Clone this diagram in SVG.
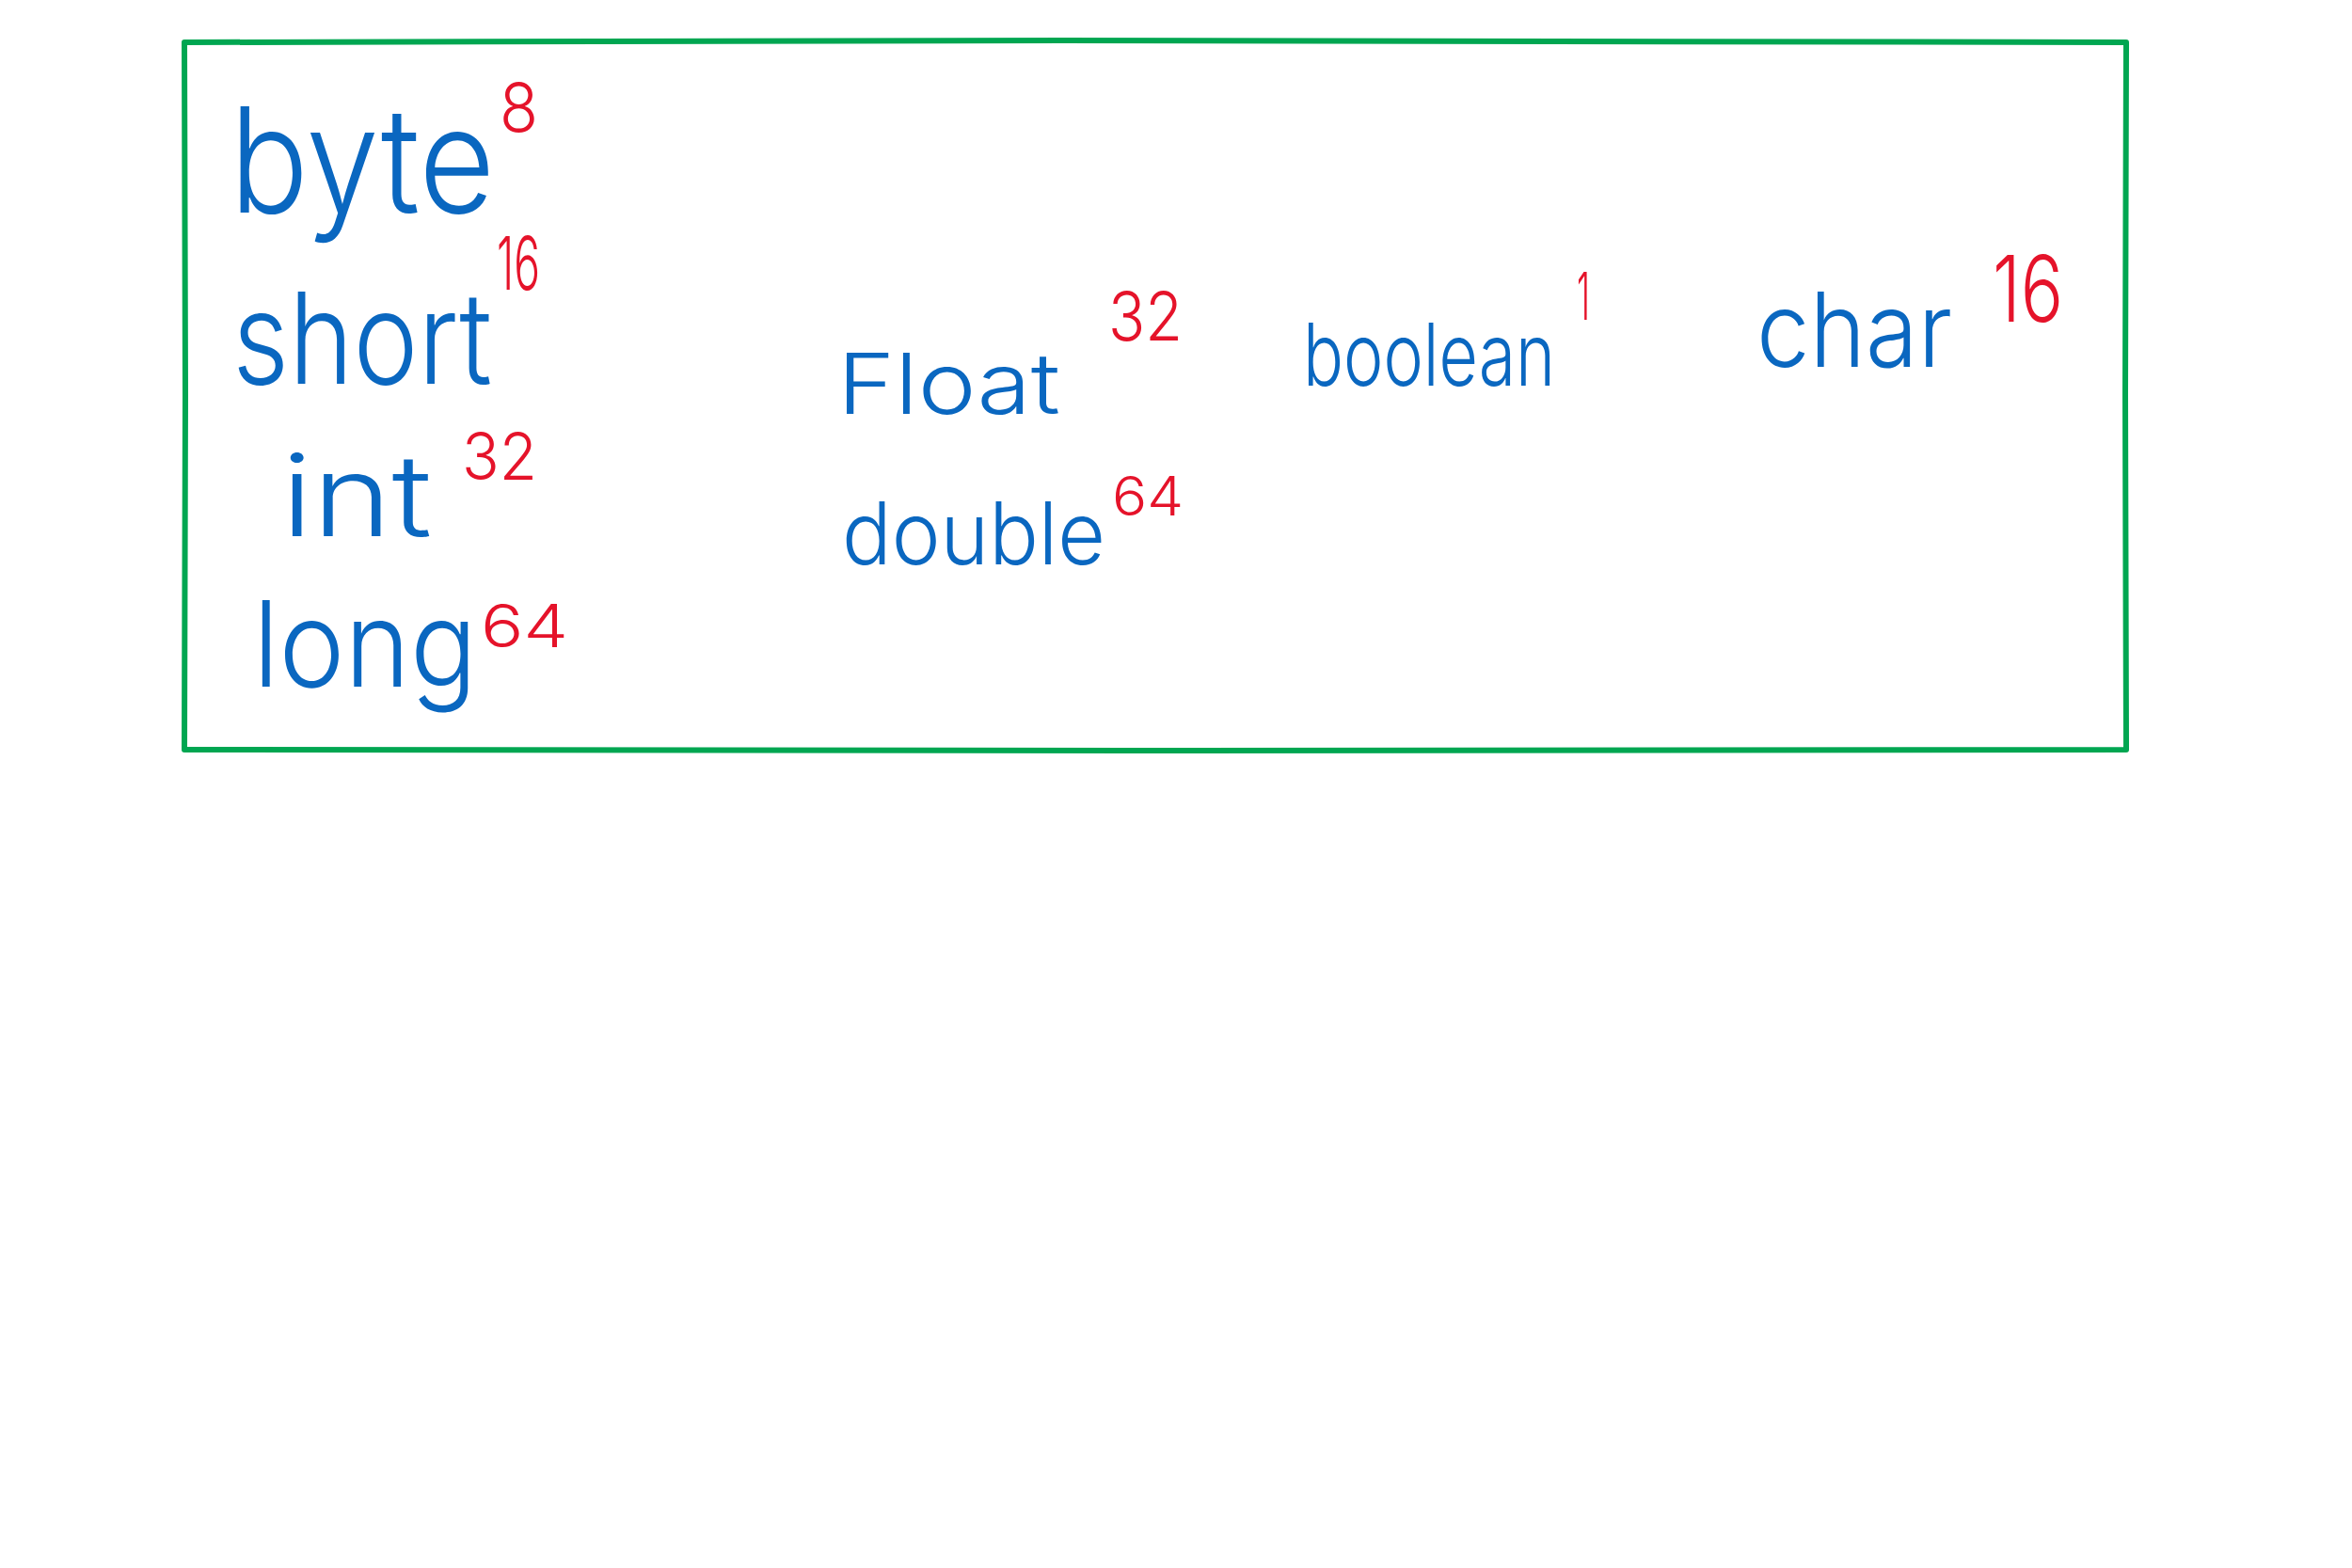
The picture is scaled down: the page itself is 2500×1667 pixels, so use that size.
<svg xmlns="http://www.w3.org/2000/svg" width="2500" height="1667" viewBox="0 0 2500 1667">
<style>
.w{font-family:Inter,"Open Sans","Liberation Sans",sans-serif;font-weight:300;fill:#0a67c0}
.n{font-family:Inter,"Open Sans","Liberation Sans",sans-serif;font-weight:300;fill:#e5132a}
</style>
<rect x="0" y="0" width="2500" height="1667" fill="#ffffff"/>
<g id="frame">
<path d="M196 45 L1130 43 L2260 45 L2259 420 L2260 797 L1200 798 L196 797 L197 420 Z" fill="none" stroke="#00a651" stroke-width="6" stroke-linejoin="round"/>
</g>
<g id="byte"><text class="w" x="244" y="226" font-size="155" textLength="282" lengthAdjust="spacingAndGlyphs">byte</text><text class="n" x="531" y="140" font-size="72" textLength="41" lengthAdjust="spacingAndGlyphs">8</text></g>
<g id="short"><text class="w" x="247" y="408" font-size="135" textLength="276" lengthAdjust="spacingAndGlyphs">short</text><text class="n" x="528" y="308" font-size="79" textLength="46" lengthAdjust="spacingAndGlyphs">16</text></g>
<g id="int"><text class="w" x="299" y="570" font-size="120" textLength="160" lengthAdjust="spacingAndGlyphs">int</text><text class="n" x="491" y="510" font-size="70" textLength="80" lengthAdjust="spacingAndGlyphs">32</text></g>
<g id="long"><text class="w" x="269" y="730" font-size="127" textLength="238" lengthAdjust="spacingAndGlyphs">long</text><text class="n" x="511" y="688" font-size="63" textLength="93" lengthAdjust="spacingAndGlyphs">64</text></g>
<g id="float"><text class="w" x="890" y="440" font-size="90" textLength="237" lengthAdjust="spacingAndGlyphs">Float</text><text class="n" x="1178" y="362" font-size="72" textLength="79" lengthAdjust="spacingAndGlyphs">32</text></g>
<g id="double"><text class="w" x="895" y="600" font-size="92" textLength="280" lengthAdjust="spacingAndGlyphs">double</text><text class="n" x="1182" y="548" font-size="57" textLength="76" lengthAdjust="spacingAndGlyphs">64</text></g>
<g id="boolean"><text class="w" x="1385" y="410" font-size="92" textLength="268" lengthAdjust="spacingAndGlyphs">boolean</text><text class="n" x="1676" y="340" font-size="70" textLength="14" lengthAdjust="spacingAndGlyphs">1</text></g>
<g id="char"><text class="w" x="1867" y="390" font-size="110" textLength="208" lengthAdjust="spacingAndGlyphs">char</text><text class="n" x="2118" y="342" font-size="97" textLength="75" lengthAdjust="spacingAndGlyphs">16</text></g>
<g id="connectors"></g>
</svg>
